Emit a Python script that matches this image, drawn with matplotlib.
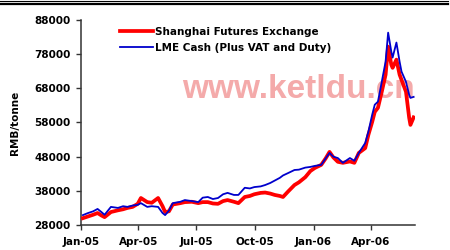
import matplotlib
matplotlib.use("Agg")
import matplotlib.pyplot as plt
import matplotlib.dates as mdates
from matplotlib.lines import Line2D
import pandas as pd

# values (RMB/tonne)
dates = ["2005-01-04", "2005-01-12", "2005-01-20", "2005-01-27", "2005-02-02",
         "2005-02-07", "2005-02-17", "2005-02-28", "2005-03-08", "2005-03-15",
         "2005-03-23", "2005-03-31", "2005-04-05", "2005-04-15", "2005-04-22",
         "2005-05-02", "2005-05-09", "2005-05-13", "2005-05-19", "2005-05-25",
         "2005-06-06", "2005-06-13", "2005-06-24", "2005-07-04", "2005-07-11",
         "2005-07-19", "2005-07-27", "2005-08-04", "2005-08-12", "2005-08-19",
         "2005-08-29", "2005-09-05", "2005-09-15", "2005-09-23", "2005-09-30",
         "2005-10-10", "2005-10-17", "2005-10-25", "2005-11-01", "2005-11-09",
         "2005-11-14", "2005-11-22", "2005-12-02", "2005-12-09", "2005-12-19",
         "2005-12-27", "2006-01-03", "2006-01-13", "2006-01-20", "2006-01-26",
         "2006-02-01", "2006-02-08", "2006-02-16", "2006-02-27", "2006-03-06",
         "2006-03-13", "2006-03-23", "2006-03-28", "2006-04-03", "2006-04-07",
         "2006-04-12", "2006-04-18", "2006-04-24", "2006-04-28", "2006-05-03",
         "2006-05-05", "2006-05-11", "2006-05-16", "2006-05-19", "2006-05-26",
         "2006-05-31", "2006-06-02", "2006-06-07"]

lme = [30900, 31500, 32000, 32700, 31800, 31000, 33300, 33000, 33500, 33300,
       33700, 33900, 34400, 33300, 33500, 33300, 31500, 30900, 32200, 34400,
       34800, 35300, 35000, 34700, 36000, 36200, 35600, 35900, 37000, 37400,
       36800, 36800, 38900, 38700, 39100, 39300, 39700, 40300, 41000, 41800,
       42500, 43200, 44100, 44200, 44800, 45000, 45300, 45600, 47500, 49100,
       48000, 47600, 46200, 47600, 46800, 49100, 52000, 55300, 60300, 63200,
       64100, 69900, 75800, 84300, 78700, 77000, 81400, 75800, 72900, 69900,
       66100, 65200, 65500]

shfe = [30000, 30500, 31000, 31500, 30800, 30300, 31800, 32300, 32600, 33000,
        33300, 34200, 35900, 34700, 34500, 35900, 33500, 31800, 32000, 34000,
        34400, 34700, 34800, 34400, 34700, 34700, 34300, 34200, 35000, 35300,
        34800, 34400, 36200, 36500, 37000, 37400, 37500, 37200, 36800, 36500,
        36200, 37800, 39700, 40500, 42000, 43800, 44700, 45600, 47500, 49400,
        47800, 46500, 46200, 46600, 46200, 49100, 50500, 54400, 58200, 61100,
        62300, 67000, 72000, 80200, 74900, 74000, 76400, 72000, 70500, 67000,
        59400, 57300, 59500]

yticks = [28000, 38000, 48000, 58000, 68000, 78000, 88000]

x = pd.to_datetime(dates)

fig = plt.figure(figsize=(4.5, 2.5), dpi=100)
ax = fig.add_axes([0.18, 0.10, 0.742, 0.82])

ax.plot(x, shfe, color="#ff0000", lw=2.7, solid_joinstyle="round",
        label="Shanghai Futures Exchange", zorder=3)
ax.plot(x, lme, color="#0000cc", lw=1.3, label="LME Cash (Plus VAT and Duty)",
        zorder=4)

ax.set_ylim(28000, 88000)
ax.set_yticks(yticks)
ax.set_xlim(pd.Timestamp("2005-01-01"), pd.Timestamp("2006-06-09"))
ax.xaxis.set_major_locator(mdates.MonthLocator(bymonth=[1, 4, 7, 10]))
ax.xaxis.set_major_formatter(mdates.DateFormatter("%b-%y"))

for s in ["top", "right"]:
    ax.spines[s].set_visible(False)
for s in ["left", "bottom"]:
    ax.spines[s].set_color("#333333")
    ax.spines[s].set_linewidth(1.1)
ax.tick_params(length=3.6, width=1, color="#333333", labelsize=7.5)
ax.tick_params(axis="y", pad=4)
ax.tick_params(axis="x", pad=5)
for lab in ax.get_xticklabels() + ax.get_yticklabels():
    lab.set_fontweight("bold")

ax.set_ylabel("RMB/tonne", fontsize=7.5, fontweight="bold", labelpad=10)

leg = ax.legend(loc="upper left", bbox_to_anchor=(0.267, 0.892),
                bbox_transform=fig.transFigure, frameon=False, borderpad=0,
                borderaxespad=0, handlelength=3.2, handletextpad=0.1,
                labelspacing=0.55, prop={"size": 7.5, "weight": "bold"})

# watermark, behind the lines
ax.text(0.405, 0.61, "www.ketldu.cn", transform=fig.transFigure,
        color="#f4aaaa", fontsize=24, fontweight="bold",
        family="Liberation Sans", zorder=1)

# double rule at the top
fig.add_artist(Line2D([0, 0.995], [0.997, 0.997], color="black", lw=0.8))
fig.add_artist(Line2D([0, 0.995], [0.985, 0.985], color="black", lw=1.6))

fig.savefig("out.png", dpi=100)
